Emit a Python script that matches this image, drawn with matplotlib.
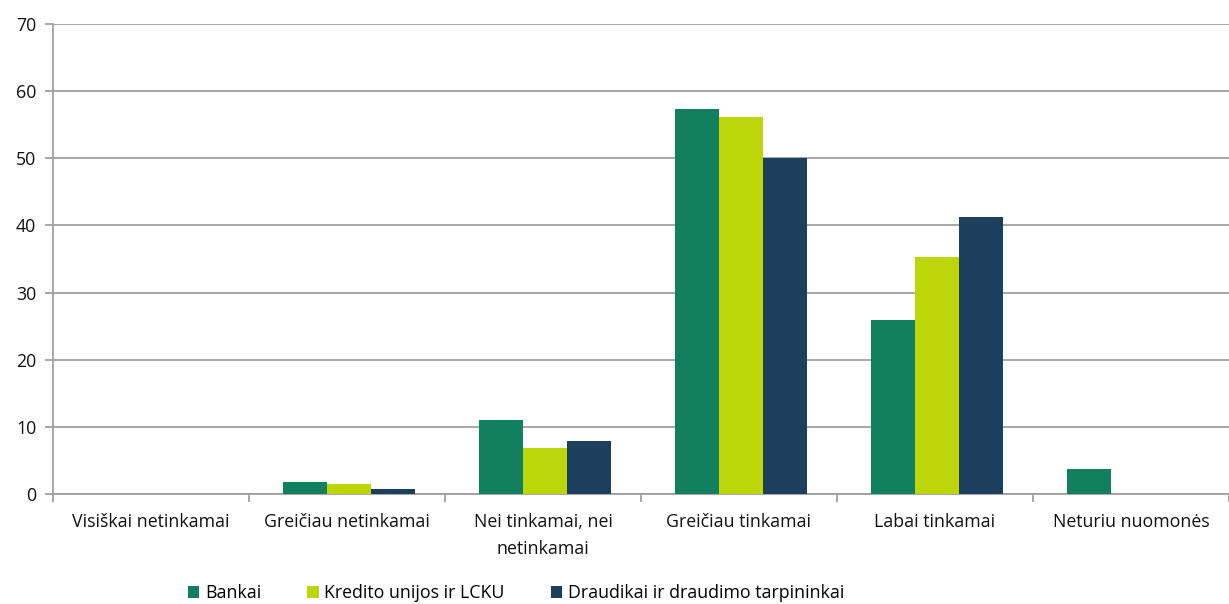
import numpy as np
import matplotlib.pyplot as plt
from matplotlib.patches import Patch

categories = ["Visiškai netinkamai", "Greičiau netinkamai", "Nei tinkamai, nei\nnetinkamai",
              "Greičiau tinkamai", "Labai tinkamai", "Neturiu nuomonės"]
series_names = ["Bankai", "Kredito unijos ir LCKU", "Draudikai ir draudimo tarpininkai"]
bankai = [0, 1.8, 11.0, 57.3, 25.9, 3.7]
kredito = [0, 1.5, 6.9, 56.1, 35.3, 0]
draudikai = [0, 0.8, 7.9, 50.0, 41.2, 0]
colors = ["#127f5e", "#bcd60a", "#1d3f5e"]

plt.rcParams['font.family'] = ['Open Sans', 'DejaVu Sans']

fig = plt.figure(figsize=(12.29, 6.04), dpi=100)
ax = fig.add_axes([53 / 1229, 1 - 494 / 604, 1 - 53 / 1229, 470 / 604])

x = np.arange(len(categories))
w = 0.225
for i, (vals, c) in enumerate(zip([bankai, kredito, draudikai], colors)):
    ax.bar(x + (i - 1) * w + 0.01, vals, width=w, color=c, zorder=3)

ax.set_xlim(-0.5, len(categories) - 0.5)
ax.set_ylim(0, 70)
ax.set_yticks(range(0, 71, 10))
ax.yaxis.grid(True, color="#a0a0a0", linewidth=1.3, zorder=0)

# category boundaries carry the tick marks, labels sit at the centres
ax.set_xticks(np.arange(-0.5, len(categories)), labels=[""] * (len(categories) + 1))
ax.set_xticks(x, labels=categories, minor=True)
ax.tick_params(axis="x", which="minor", length=0, pad=14, labelsize=12.8, labelcolor="#111111")
ax.tick_params(axis="x", which="major", length=6, width=1.3, color="#a0a0a0")
ax.tick_params(axis="y", length=6, width=1.3, color="#a0a0a0", labelsize=12.8, labelcolor="#111111", pad=6)
for lbl in ax.get_xticklabels(minor=True):
    lbl.set_linespacing(1.6)

for side in ["top", "right"]:
    ax.spines[side].set_visible(False)
for side in ["left", "bottom"]:
    ax.spines[side].set_color("#a0a0a0")
    ax.spines[side].set_linewidth(1.3)

handles = [Patch(facecolor=c, label=n) for c, n in zip(colors, series_names)]
fig.legend(handles=handles, loc="center", bbox_to_anchor=(516 / 1229, 1 - 593 / 604), ncol=3,
           frameon=False, fontsize=12.8, handlelength=0.65, handleheight=0.65, handletextpad=0.3,
           columnspacing=2.6)

fig.savefig("out.png", dpi=100)
